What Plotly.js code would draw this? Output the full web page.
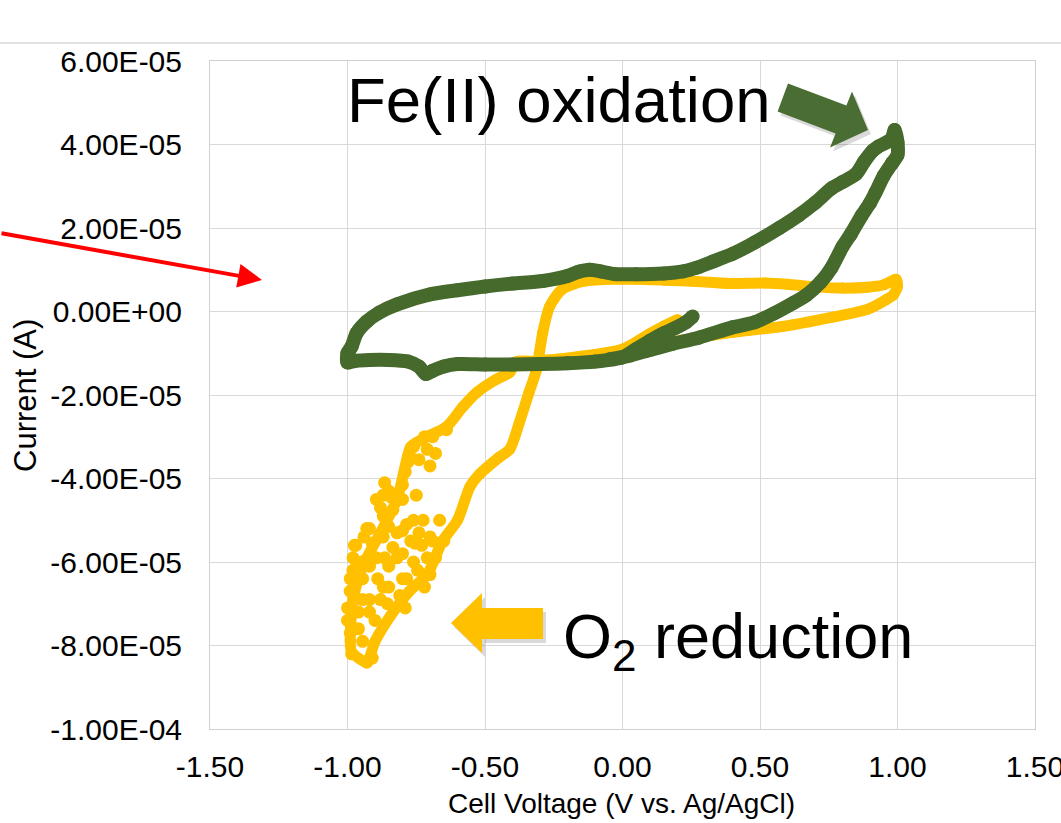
<!DOCTYPE html>
<html><head><meta charset="utf-8">
<script src="https://cdn.plot.ly/plotly-3.0.1.min.js"></script>
<style>html,body{margin:0;padding:0;background:#fff;}#chart{width:1061px;height:823px;}</style>
</head><body><div id="chart"></div>
<script>
// ---- data ----
const xTickVals = [-1.5, -1.0, -0.5, 0.0, 0.5, 1.0, 1.5];
const xTickText = ["-1.50", "-1.00", "-0.50", "0.00", "0.50", "1.00", "1.50"];
const yTickVals = [6e-5, 4e-5, 2e-5, 0, -2e-5, -4e-5, -6e-5, -8e-5, -1e-4];
const yTickText = ["6.00E-05", "4.00E-05", "2.00E-05", "0.00E+00", "-2.00E-05", "-4.00E-05", "-6.00E-05", "-8.00E-05", "-1.00E-04"];

// Fe(II) solution CV (green)
const greenV = [0.255, 0.23, 0.19, 0.15, 0.10, 0.05, 0.0, -0.1, -0.2, -0.3, -0.4, -0.5, -0.6, -0.65, -0.69, -0.715, -0.74, -0.78, -0.85, -0.92, -0.97, -1.0,
  -1.0, -0.985, -0.967, -0.93, -0.884, -0.82, -0.70, -0.6, -0.5, -0.4, -0.29, -0.2, -0.16, -0.12, -0.08, -0.03, 0.05, 0.15, 0.22, 0.27, 0.33, 0.40, 0.48, 0.57, 0.64, 0.70, 0.76, 0.80, 0.85, 0.88, 0.91, 0.93, 0.96, 0.98, 0.99, 1.0, 1.0,
  0.98, 0.95, 0.92, 0.90, 0.87, 0.83, 0.80, 0.76, 0.72, 0.67, 0.62, 0.55, 0.48, 0.40, 0.28, 0.18, 0.10, 0.03, -0.05];
const greenI = [-1.2e-6, -2.6e-6, -4.0e-6, -5.2e-6, -7.0e-6, -9.0e-6, -1.1e-5, -1.2e-5, -1.24e-5, -1.26e-5, -1.27e-5, -1.27e-5, -1.26e-5, -1.32e-5, -1.42e-5, -1.5e-5, -1.32e-5, -1.2e-5, -1.16e-5, -1.16e-5, -1.18e-5, -1.22e-5,
  -1.0e-5, -8.4e-6, -5.2e-6, -2.4e-6, -2.4e-7, 1.7e-6, 4.1e-6, 5.1e-6, 6.0e-6, 6.7e-6, 7.3e-6, 8.5e-6, 9.5e-6, 1.0e-5, 9.6e-6, 9.0e-6, 8.9e-6, 9.1e-6, 9.6e-6, 1.05e-5, 1.2e-5, 1.38e-5, 1.65e-5, 2.0e-5, 2.3e-5, 2.6e-5, 2.95e-5, 3.1e-5, 3.3e-5, 3.6e-5, 3.85e-5, 3.95e-5, 4.05e-5, 4.15e-5, 4.35e-5, 4.05e-5, 3.75e-5,
  3.55e-5, 3.25e-5, 2.85e-5, 2.6e-5, 2.3e-5, 1.85e-5, 1.55e-5, 1.05e-5, 7.0e-6, 4.0e-6, 2.0e-6, -5e-7, -2.6e-6, -3.8e-6, -6.2e-6, -7.8e-6, -9.2e-6, -1.05e-5, -1.15e-5];

// O2 reduction CV (yellow)
const yellowV = [0.20, 0.15, 0.10, 0.05, 0.0, -0.1, -0.2, -0.3, -0.385,
  -0.41, -0.46, -0.53, -0.58, -0.64, -0.71, -0.77, -0.79, -0.82, -0.88, -0.945, -0.98, -0.99, -0.985, -0.93,
  -0.90, -0.845, -0.775, -0.71, -0.655, -0.60, -0.555, -0.52, -0.45, -0.41, -0.375, -0.34, -0.313, -0.29, -0.265, -0.22, -0.145, -0.05, 0.05, 0.15, 0.27, 0.39, 0.52, 0.60, 0.70, 0.80, 0.89, 0.95, 0.995, 1.0, 0.985, 0.96, 0.89, 0.76, 0.58, 0.40, 0.28, 0.15, 0.05, -0.05, -0.15, -0.25, -0.35];
const yellowI = [-1.9e-6, -3.5e-6, -5.3e-6, -7.3e-6, -9.0e-6, -1.03e-5, -1.12e-5, -1.2e-5, -1.2e-5,
  -1.46e-5, -1.63e-5, -1.94e-5, -2.28e-5, -2.76e-5, -3.0e-5, -3.24e-5, -3.7e-5, -4.5e-5, -5.3e-5, -6.1e-5, -6.9e-5, -7.9e-5, -8.15e-5, -8.4e-5,
  -7.9e-5, -7.3e-5, -6.7e-5, -6.3e-5, -5.5e-5, -5.0e-5, -4.2e-5, -3.9e-5, -3.5e-5, -3.3e-5, -2.66e-5, -1.94e-5, -1.4e-5, -5.0e-6, 1.2e-6, 5.3e-6, 7.2e-6, 7.7e-6, 7.7e-6, 7.5e-6, 7.2e-6, 6.7e-6, 6.8e-6, 6.5e-6, 5.9e-6, 5.6e-6, 5.8e-6, 6.4e-6, 7.7e-6, 6.0e-6, 4.0e-6, 2.9e-6, 5e-7, -1.4e-6, -3.6e-6, -5.0e-6, -6.2e-6, -7.6e-6, -8.8e-6, -9.8e-6, -1.07e-5, -1.15e-5, -1.2e-5];

// scattered (noisy) yellow points in the O2 reduction region
const yellowDotsV = [-0.64, -0.72, -0.76, -0.77, -0.79, -0.80, -0.85, -0.87, -0.88, -0.87, -0.93, -0.94, -0.97, -0.98, -0.98, -0.99, -1.0, -1.0, -0.99, -0.985, -0.93, -0.91, -0.945, -0.90, -0.855, -0.81, -0.79, -0.85, -0.785, -0.76, -0.72, -0.70, -0.68, -0.65, -0.665, -0.73, -0.77, -0.82, -0.85, -0.92, -0.945, -0.88, -0.92, -0.96, -0.82, -0.87, -0.92, -0.835, -0.785, -0.74, -0.70, -0.71, -0.80, -0.75, -0.70, -0.68, -0.74,
  -0.975, -0.95, -0.91, -0.865, -0.80, -0.755, -0.745, -0.80, -0.87, -0.92, -0.96, -0.975, -0.89, -0.835, -0.895, -0.85, -0.895, -0.865, -0.84, -0.80, -0.76, -0.725, -0.69, -0.945, -0.99, -0.78, -0.71, -0.69, -0.98];
const yellowDotsI = [-2.83e-5, -3.0e-5, -3.24e-5, -3.5e-5, -3.84e-5, -4.15e-5, -4.3e-5, -4.4e-5, -4.7e-5, -4.9e-5, -5.2e-5, -5.4e-5, -5.6e-5, -5.9e-5, -6.2e-5, -6.7e-5, -7.1e-5, -7.4e-5, -7.7e-5, -8.2e-5, -8.4e-5, -8.3e-5, -7.9e-5, -7.4e-5, -7.0e-5, -6.8e-5, -7.1e-5, -6.6e-5, -6.4e-5, -6.0e-5, -6.6e-5, -6.3e-5, -5.9e-5, -5.5e-5, -5.0e-5, -5.6e-5, -5.5e-5, -5.9e-5, -6.1e-5, -6.1e-5, -6.4e-5, -6.9e-5, -7.2e-5, -7.6e-5, -5.3e-5, -5.4e-5, -5.2e-5, -4.75e-5, -5.1e-5, -5.3e-5, -5.4e-5, -5.9e-5, -4.5e-5, -4.4e-5, -3.7e-5, -3.4e-5, -3.55e-5,
  -5.6e-5, -6.0e-5, -5.55e-5, -5.9e-5, -5.8e-5, -5.55e-5, -6.2e-5, -6.4e-5, -6.6e-5, -6.9e-5, -7.2e-5, -7.6e-5, -6.4e-5, -5.65e-5, -5.9e-5, -5.15e-5, -4.5e-5, -4.1e-5, -4.45e-5, -5.25e-5, -5.0e-5, -5.0e-5, -5.5e-5, -6.9e-5, -6.4e-5, -3.6e-5, -3.3e-5, -3.0e-5, -6.35e-5];

// ---- styling / layout ----
const GREEN = '#46692c', YELLOW = '#ffc000';
const FONT = 'Liberation Sans, Arial, Helvetica, sans-serif';
const L = 210, R = 1035, T = 61, B = 729;
const px = p => (p - L) / (R - L);
const py = p => (B - p) / (B - T);
function pathFrom(pts, dx, dy) {
  dx = dx || 0; dy = dy || 0;
  return pts.map((p, i) => (i ? 'L' : 'M') + px(p[0] + dx).toFixed(5) + ',' + py(p[1] + dy).toFixed(5)).join(' ') + ' Z';
}
const greenArrow = [[788, 83.5], [846.4, 105.5], [852, 91.5], [868, 130], [830, 147.5], [835.6, 133.5], [777.6, 111.5]];
const yellowArrow = [[451, 623], [482, 593], [482, 608], [543, 608], [543, 639], [482, 639], [482, 653]];

const traces = [
  {x: yellowV, y: yellowI, type: 'scatter', mode: 'lines+markers', line: {color: YELLOW, width: 11, shape: 'spline', smoothing: 0.7}, marker: {color: YELLOW, size: 11}, hoverinfo: 'skip'},
  {x: yellowDotsV, y: yellowDotsI, type: 'scatter', mode: 'markers', marker: {color: YELLOW, size: 13}, hoverinfo: 'skip'},
  {x: greenV, y: greenI, type: 'scatter', mode: 'lines+markers', line: {color: GREEN, width: 14, shape: 'spline', smoothing: 0.7}, marker: {color: GREEN, size: 14}, hoverinfo: 'skip'}
];

const axisCommon = {
  showgrid: true, gridcolor: '#d9d9d9', gridwidth: 1, zeroline: false,
  showline: true, mirror: true, linecolor: '#d0d0d0', linewidth: 1, ticks: '',
  ticklabeloverflow: 'allow',
  tickfont: {family: FONT, size: 30, color: '#000'}, fixedrange: true
};

const layout = {
  width: 1061, height: 823,
  margin: {l: L, r: 1061 - R, t: T, b: 823 - B, pad: 0},
  paper_bgcolor: '#fff', plot_bgcolor: '#fff', showlegend: false,
  font: {family: FONT, color: '#000'},
  xaxis: Object.assign({}, axisCommon, {range: [-1.5, 1.5], tickmode: 'array', tickvals: xTickVals, ticktext: xTickText, ticklabelstandoff: 11}),
  yaxis: Object.assign({}, axisCommon, {range: [-1e-4, 6e-5], tickmode: 'array', tickvals: yTickVals, ticktext: yTickText, ticklabelstandoff: 21}),
  shapes: [
    {type: 'line', xref: 'paper', yref: 'paper', x0: px(0), x1: px(1061), y0: py(43), y1: py(43), line: {color: '#d9d9d9', width: 1.5}},
    {type: 'path', xref: 'paper', yref: 'paper', path: pathFrom(greenArrow, 3, 4), fillcolor: 'rgba(0,0,0,0.15)', line: {width: 0}, layer: 'above'},
    {type: 'path', xref: 'paper', yref: 'paper', path: pathFrom(greenArrow), fillcolor: '#4a6d33', line: {width: 0}, layer: 'above'},
    {type: 'path', xref: 'paper', yref: 'paper', path: pathFrom(yellowArrow, 3, 4), fillcolor: 'rgba(0,0,0,0.15)', line: {width: 0}, layer: 'above'},
    {type: 'path', xref: 'paper', yref: 'paper', path: pathFrom(yellowArrow), fillcolor: YELLOW, line: {width: 0}, layer: 'above'}
  ],
  annotations: [
    {xref: 'paper', yref: 'paper', x: px(25), y: py(396), text: 'Current (A)', textangle: -90, showarrow: false, xanchor: 'center', yanchor: 'middle', font: {family: FONT, size: 31, color: '#000'}},
    {xref: 'paper', yref: 'paper', x: px(621), y: py(804), text: 'Cell Voltage (V vs. Ag/AgCl)', showarrow: false, xanchor: 'center', yanchor: 'middle', font: {family: FONT, size: 28, color: '#000'}},
    {xref: 'paper', yref: 'paper', x: px(345), y: py(100), text: 'Fe(II) oxidation', showarrow: false, xanchor: 'left', yanchor: 'middle', font: {family: FONT, size: 63.5, color: '#000'}},
    {xref: 'paper', yref: 'paper', x: px(561), y: py(640), text: 'O<sub>2</sub> reduction', showarrow: false, xanchor: 'left', yanchor: 'middle', font: {family: FONT, size: 63, color: '#000'}},
    {xref: 'paper', yref: 'paper', x: px(262), y: py(280), ax: -262, ay: -47, axref: 'pixel', ayref: 'pixel', text: '', showarrow: true, arrowhead: 2, arrowsize: 1.2, arrowwidth: 4, arrowcolor: '#ff0000', standoff: 0}
  ]
};

Plotly.newPlot('chart', traces, layout, {displayModeBar: false, staticPlot: true});
</script>
</body></html>
